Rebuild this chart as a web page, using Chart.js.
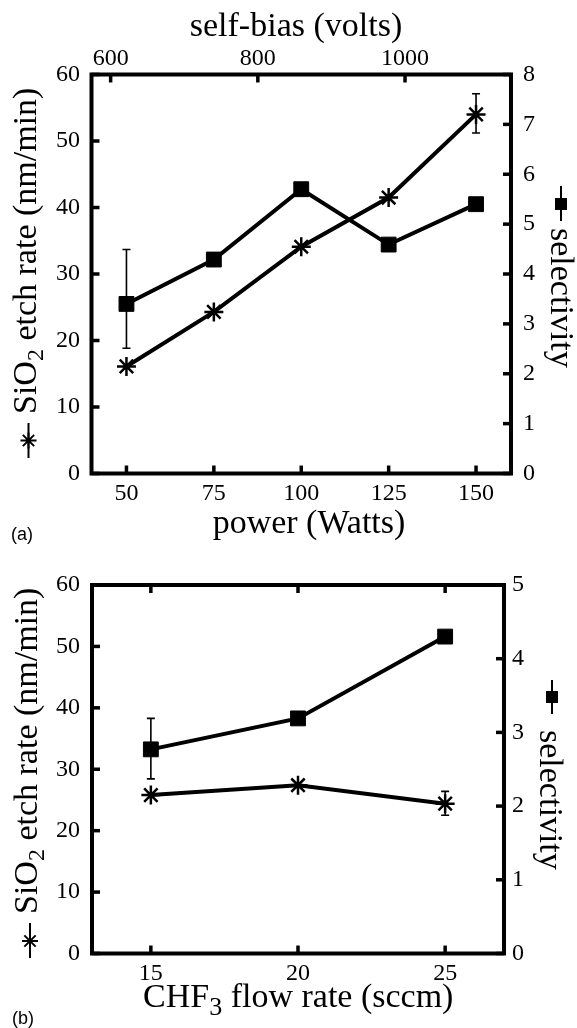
<!DOCTYPE html>
<html><head><meta charset="utf-8">
<script src="https://cdn.jsdelivr.net/npm/chart.js@4"></script>
<style>
html,body{margin:0;padding:0;background:#fff;}
#wrapA{position:absolute;left:0;top:0;width:577px;height:555px;}
#wrapB{position:absolute;left:0;top:555px;width:577px;height:473px;}
canvas{display:block;}
</style></head><body>
<div id="wrapA"><canvas id="chartA" width="577" height="555"></canvas></div>
<div id="wrapB"><canvas id="chartB" width="577" height="473"></canvas></div>
<script>
// ---------- (a) power dependence ----------
const powerA = [50, 75, 100, 125, 150];
const etchA = [16.1, 24.3, 34.1, 41.5, 54.0];
const selA = [3.40, 4.29, 5.70, 4.59, 5.40];
const etchErrLoA = [null, null, null, null, 51.2];
const etchErrHiA = [null, null, null, null, 57.1];
const selErrLoA = [2.51, null, null, null, null];
const selErrHiA = [4.49, null, null, null, null];
const powerTicks = [50, 75, 100, 125, 150];
const biasTicks = [600, 800, 1000];
const etchTicks = [0, 10, 20, 30, 40, 50, 60];
const selTicksA = [0, 1, 2, 3, 4, 5, 6, 7, 8];

// ---------- (b) CHF3 flow dependence ----------
const flowB = [15, 20, 25];
const etchB = [25.8, 27.4, 24.4];
const selB = [2.77, 3.19, 4.30];
const etchErrLoB = [null, null, 22.5];
const etchErrHiB = [null, null, 26.4];
const selErrLoB = [2.37, null, null];
const selErrHiB = [3.19, null, null];
const flowTicks = [15, 20, 25];
const selTicksB = [0, 1, 2, 3, 4, 5];

const SERIF = "'Liberation Serif', 'Times New Roman', serif";
const SANS = "'Liberation Sans', Arial, sans-serif";
const TICK_SIZE = 24;
const TITLE_SIZE = 34;
Chart.defaults.font.family = SERIF;
Chart.defaults.color = '#000';

function fixedSize(prop, val) { return function (scale) { scale[prop] = val; }; }
function setTicks(vals) { return function (scale) { scale.ticks = vals.map(v => ({ value: v })); }; }
function axis(position, min, max, ticks, sizeProp, sizeVal, pad) {
  return {
    type: 'linear', position: position, min: min, max: max, display: true,
    grid: { display: false, drawTicks: false }, border: { display: false },
    ticks: { font: { family: SERIF, size: TICK_SIZE }, color: '#000', padding: pad,
             maxRotation: 0, minRotation: 0, autoSkip: false, callback: v => String(v) },
    afterBuildTicks: setTicks(ticks),
    afterFit: fixedSize(sizeProp, sizeVal)
  };
}
function pts(xs, ys) { return xs.map((x, i) => ({ x: x, y: ys[i] })); }

function drawRun(ctx, parts, x0, y0, angle, align) {
  ctx.save();
  ctx.translate(x0, y0);
  ctx.rotate(angle);
  let total = 0;
  parts.forEach(p => { ctx.font = (p.size || TITLE_SIZE) + 'px ' + (p.family || SERIF); p.w = ctx.measureText(p.t).width; total += p.w; });
  let x = align === 'center' ? -total / 2 : 0;
  ctx.textAlign = 'left'; ctx.textBaseline = 'alphabetic'; ctx.fillStyle = '#000';
  parts.forEach(p => { ctx.font = (p.size || TITLE_SIZE) + 'px ' + (p.family || SERIF); ctx.fillText(p.t, x, p.shift || 0); x += p.w; });
  ctx.restore();
}
function drawStar(ctx, x, y, r) {
  ctx.beginPath();
  ctx.moveTo(x - r, y); ctx.lineTo(x + r, y);
  ctx.moveTo(x, y - r); ctx.lineTo(x, y + r);
  const d = r * Math.SQRT1_2;
  ctx.moveTo(x - d, y - d); ctx.lineTo(x + d, y + d);
  ctx.moveTo(x - d, y + d); ctx.lineTo(x + d, y - d);
  ctx.stroke();
}

function makeDeco(spec) {
  return {
    id: 'deco',
    beforeDatasetsDraw(chart) {
      const ctx = chart.ctx;
      ctx.save();
      ctx.strokeStyle = '#000'; ctx.lineWidth = 1.6;
      spec.errors.forEach(e => {
        const xs = chart.scales[e.xScale], ys = chart.scales[e.yScale];
        e.xs.forEach((xv, i) => {
          if (e.lo[i] == null || e.hi[i] == null) return;
          const px = xs.getPixelForValue(xv);
          const p1 = ys.getPixelForValue(e.lo[i]);
          const p2 = ys.getPixelForValue(e.hi[i]);
          ctx.beginPath();
          ctx.moveTo(px, p1); ctx.lineTo(px, p2);
          ctx.moveTo(px - 4, p1); ctx.lineTo(px + 4, p1);
          ctx.moveTo(px - 4, p2); ctx.lineTo(px + 4, p2);
          ctx.stroke();
        });
      });
      ctx.restore();
    },
    afterDatasetsDraw(chart) {
      const ctx = chart.ctx, ca = chart.chartArea;
      ctx.save();
      ctx.strokeStyle = '#000';
      ctx.lineWidth = 4; ctx.lineJoin = 'miter';
      ctx.strokeRect(ca.left, ca.top, ca.right - ca.left, ca.bottom - ca.top);
      ctx.lineWidth = 3.5;
      const L = 8;
      spec.tickMarks.forEach(t => {
        const sc = chart.scales[t.scale];
        t.values.forEach(v => {
          const p = sc.getPixelForValue(v);
          ctx.beginPath();
          if (t.side === 'left') { ctx.moveTo(ca.left, p); ctx.lineTo(ca.left + L, p); }
          else if (t.side === 'right') { ctx.moveTo(ca.right, p); ctx.lineTo(ca.right - L, p); }
          else if (t.side === 'bottom') { ctx.moveTo(p, ca.bottom); ctx.lineTo(p, ca.bottom - L); }
          else { ctx.moveTo(p, ca.top); ctx.lineTo(p, ca.top + L); }
          ctx.stroke();
        });
      });
      ctx.restore();
    },
    afterDraw(chart) {
      const ctx = chart.ctx;
      ctx.save();
      ctx.strokeStyle = '#000'; ctx.fillStyle = '#000';
      spec.texts.forEach(t => drawRun(ctx, t.parts, t.x, t.y, t.angle || 0, t.align || 'left'));
      // legend markers embedded in axis titles
      const lm = spec.leftMarker, rm = spec.rightMarker;
      ctx.lineWidth = 2;
      ctx.beginPath(); ctx.moveTo(lm.x, lm.y1); ctx.lineTo(lm.x, lm.y2); ctx.stroke();
      drawStar(ctx, lm.x, lm.cy, 8);
      ctx.beginPath(); ctx.moveTo(rm.x, rm.y1); ctx.lineTo(rm.x, rm.y2); ctx.stroke();
      ctx.fillRect(rm.x - 6, rm.cy - 6, 12, 12);
      ctx.restore();
    }
  };
}

function lineDatasets(xs, etch, sel) {
  return [
    { label: 'SiO2 etch rate', data: pts(xs, etch), xAxisID: 'x', yAxisID: 'y',
      borderColor: '#000', borderWidth: 4, tension: 0, fill: false,
      pointStyle: 'star', pointRadius: 9.5, pointBorderWidth: 2.5,
      pointBorderColor: '#000', pointBackgroundColor: '#000' },
    { label: 'selectivity', data: pts(xs, sel), xAxisID: 'x', yAxisID: 'y2',
      borderColor: '#000', borderWidth: 4, tension: 0, fill: false,
      pointStyle: 'rect', pointRadius: 10.5, pointBorderWidth: 1,
      pointBorderColor: '#000', pointBackgroundColor: '#000' }
  ];
}

const commonOpts = {
  responsive: false, animation: false, events: [],
  plugins: { legend: { display: false }, tooltip: { enabled: false }, title: { display: false } }
};

// ----- chart (a) -----
new Chart(document.getElementById('chartA'), {
  type: 'line',
  data: { datasets: lineDatasets(powerA, etchA, selA) },
  options: Object.assign({}, commonOpts, {
    layout: { padding: 0 },
    scales: {
      x: axis('bottom', 40, 160, powerTicks, 'height', 81.5, 6),
      x2: axis('top', 574, 1144, biasTicks, 'height', 74.5, 1),
      y: axis('left', 0, 60, etchTicks, 'width', 91.5, 11.5),
      y2: axis('right', 0, 8, selTicksA, 'width', 66, 12)
    }
  }),
  plugins: [makeDeco({
    errors: [
      { xScale: 'x', yScale: 'y', xs: powerA, lo: etchErrLoA, hi: etchErrHiA },
      { xScale: 'x', yScale: 'y2', xs: powerA, lo: selErrLoA, hi: selErrHiA }
    ],
    tickMarks: [
      { scale: 'y', side: 'left', values: etchTicks },
      { scale: 'y2', side: 'right', values: selTicksA },
      { scale: 'x', side: 'bottom', values: powerTicks },
      { scale: 'x2', side: 'top', values: biasTicks }
    ],
    texts: [
      { parts: [{ t: 'self-bias (volts)' }], x: 296, y: 35.5, align: 'center' },
      { parts: [{ t: 'power (Watts)' }], x: 309, y: 533, align: 'center' },
      { parts: [{ t: 'SiO' }, { t: '2', size: 24, shift: 7 }, { t: ' etch rate (nm/min)' }], x: 36, y: 414, angle: -Math.PI / 2 },
      { parts: [{ t: 'selectivity' }], x: 551, y: 228, angle: Math.PI / 2 },
      { parts: [{ t: '(a)', size: 18, family: SANS }], x: 11, y: 540 }
    ],
    leftMarker: { x: 28.5, y1: 423, y2: 458, cy: 440.5 },
    rightMarker: { x: 561, y1: 186, y2: 221, cy: 204 }
  })]
});

// ----- chart (b) -----
new Chart(document.getElementById('chartB'), {
  type: 'line',
  data: { datasets: lineDatasets(flowB, etchB, selB) },
  options: Object.assign({}, commonOpts, {
    layout: { padding: { top: 30, left: 0, right: 0, bottom: 0 } },
    scales: {
      x: axis('bottom', 13, 27, flowTicks, 'height', 74.5, 6),
      y: axis('left', 0, 60, etchTicks, 'width', 92, 12),
      y2: axis('right', 0, 5, selTicksB, 'width', 73, 8)
    }
  }),
  plugins: [makeDeco({
    errors: [
      { xScale: 'x', yScale: 'y', xs: flowB, lo: etchErrLoB, hi: etchErrHiB },
      { xScale: 'x', yScale: 'y2', xs: flowB, lo: selErrLoB, hi: selErrHiB }
    ],
    tickMarks: [
      { scale: 'y', side: 'left', values: etchTicks },
      { scale: 'y2', side: 'right', values: selTicksB },
      { scale: 'x', side: 'bottom', values: flowTicks },
      { scale: 'x', side: 'top', values: flowTicks }
    ],
    texts: [
      { parts: [{ t: 'CHF' }, { t: '3', size: 26, shift: 8 }, { t: ' flow rate (sccm)' }], x: 143, y: 451.7 },
      { parts: [{ t: 'SiO' }, { t: '2', size: 24, shift: 7 }, { t: ' etch rate (nm/min)' }], x: 37, y: 359, angle: -Math.PI / 2 },
      { parts: [{ t: 'selectivity' }], x: 540, y: 175, angle: Math.PI / 2 },
      { parts: [{ t: '(b)', size: 18, family: SANS }], x: 12, y: 469 }
    ],
    leftMarker: { x: 30, y1: 368, y2: 403, cy: 386 },
    rightMarker: { x: 552, y1: 125, y2: 159, cy: 142 }
  })]
});
</script>
</body></html>
